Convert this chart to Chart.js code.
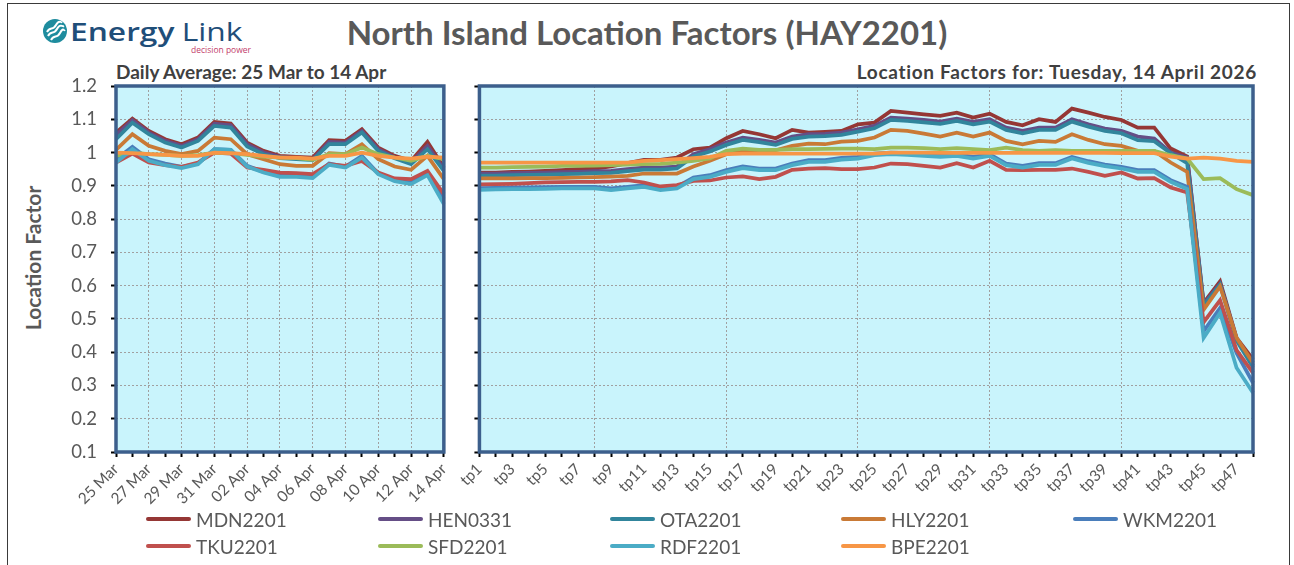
<!DOCTYPE html>
<html><head><meta charset="utf-8">
<script src="https://cdn.jsdelivr.net/npm/chart.js@4/dist/chart.umd.min.js"></script>
<style>
html,body{margin:0;padding:0;background:#fff}
body{width:1294px;height:565px;overflow:hidden;position:relative;font-family:Lato,'Open Sans',sans-serif}
.frame{position:absolute;left:7px;top:3px;width:1283px;height:620px;border:1.5px solid #3a3a3a;box-sizing:border-box}
canvas{position:absolute;top:0}
#cl{left:0}
#cr{left:460px}
.title{position:absolute;left:0;width:1294px;top:12px;text-align:center;font-weight:700;font-size:33px;line-height:40px;color:#595959}
.sub{position:absolute;top:60px;font-weight:700;font-size:19px;line-height:24px;color:#404040;white-space:nowrap}
.ytitle{position:absolute;left:32px;top:258px;transform:translate(-50%,-50%) rotate(-90deg);font-weight:700;font-size:21px;color:#595959;white-space:nowrap}
.leg{position:absolute;height:24px;display:flex;align-items:center;font-size:19px;color:#595959;white-space:nowrap}
.leg span.ln{display:inline-block;width:45px;height:4px;border-radius:2px;margin-right:5px}
.logo{position:absolute;left:42px;top:17px}
.logotxt{position:absolute;left:70px;top:15px;font-family:'Open Sans',sans-serif;font-size:26px;line-height:32px;color:#1f4e79;transform-origin:0 0;transform:scaleX(1.22);white-space:nowrap}
.logotxt b{font-weight:600}
.logotxt i{font-style:normal;font-weight:400;margin-left:6px}
.dp{position:absolute;left:191px;top:44px;font-family:'Open Sans',sans-serif;font-size:8.5px;color:#c2406b;white-space:nowrap}
</style>
</head><body>
<div class="frame"></div>
<svg class="logo" width="28" height="28" viewBox="0 0 28 28">
  <circle cx="13" cy="14" r="12" fill="#1e8c9e"/>
  <path d="M5 15 C8 9, 11 14, 14 8 S19 6, 20 5" stroke="#fff" stroke-width="2" fill="none"/>
  <path d="M6 19 C9 13, 12 18, 15 12 S20 10, 22 9" stroke="#fff" stroke-width="2" fill="none"/>
  <path d="M9 23 C12 17, 15 22, 18 16 S22 14, 23 13" stroke="#fff" stroke-width="2" fill="none"/>
</svg>
<div class="logotxt"><b>Energy</b><i>Link</i></div>
<div class="dp">decision power</div>
<div class="title">North Island Location Factors (HAY2201)</div>
<div class="sub" style="left:116px">Daily Average: 25 Mar to 14 Apr</div>
<div class="sub" style="right:37px;letter-spacing:0.7px">Location Factors for: Tuesday, 14 April 2026</div>
<div class="ytitle">Location Factor</div>
<canvas id="cl" width="460" height="565"></canvas>
<canvas id="cr" width="834" height="565"></canvas>
<div id="legend"></div>
<script>
// ---------- data ----------
const days = ['25 Mar','26 Mar','27 Mar','28 Mar','29 Mar','30 Mar','31 Mar','01 Apr','02 Apr','03 Apr','04 Apr','05 Apr','06 Apr','07 Apr','08 Apr','09 Apr','10 Apr','11 Apr','12 Apr','13 Apr','14 Apr'];
const tps = ['tp1','tp2','tp3','tp4','tp5','tp6','tp7','tp8','tp9','tp10','tp11','tp12','tp13','tp14','tp15','tp16','tp17','tp18','tp19','tp20','tp21','tp22','tp23','tp24','tp25','tp26','tp27','tp28','tp29','tp30','tp31','tp32','tp33','tp34','tp35','tp36','tp37','tp38','tp39','tp40','tp41','tp42','tp43','tp44','tp45','tp46','tp47','tp48'];
const yTickLabels = ['0.1','0.2','0.3','0.4','0.5','0.6','0.7','0.8','0.9','1','1.1','1.2'];

const seriesNames = ['MDN2201','HEN0331','OTA2201','HLY2201','WKM2201','TKU2201','SFD2201','RDF2201','BPE2201'];
const seriesColors = ['#953735','#654e86','#31859c','#c97a36','#4a7ebb','#c0504d','#9bbb59','#4bacc6','#f79646'];

// daily averages
const dailyMDN = [1.06,1.102,1.065,1.04,1.025,1.045,1.092,1.087,1.03,1.005,0.99,0.987,0.985,1.037,1.035,1.07,1.015,0.99,0.975,1.032,0.955];
const dailyHEN = [1.052,1.097,1.06,1.035,1.02,1.04,1.087,1.082,1.025,1.0,0.987,0.983,0.98,1.032,1.03,1.065,1.01,0.985,0.97,1.02,0.95];
const dailyOTA = [1.04,1.09,1.055,1.03,1.015,1.035,1.08,1.075,1.018,0.995,0.983,0.98,0.977,1.025,1.025,1.06,1.005,0.983,0.965,1.01,0.945];
const dailyHLY = [1.008,1.055,1.02,1.005,0.995,1.005,1.045,1.04,0.995,0.98,0.965,0.96,0.96,0.998,0.995,1.025,0.98,0.958,0.948,0.99,0.92];
const dailyWKM = [0.98,1.017,0.98,0.967,0.957,0.967,1.01,1.008,0.96,0.942,0.93,0.93,0.927,0.967,0.958,0.99,0.937,0.917,0.91,0.935,0.86];
const dailyTKU = [0.97,0.997,0.97,0.962,0.957,0.97,1.0,0.997,0.955,0.948,0.94,0.938,0.935,0.965,0.96,0.975,0.94,0.922,0.92,0.945,0.875];
const dailySFD = [0.99,1.0,0.995,0.993,0.99,0.992,1.0,0.998,0.993,0.988,0.985,0.983,0.978,0.995,0.995,1.015,0.995,0.985,0.975,0.99,0.98];
const dailyRDF = [0.97,1.01,0.975,0.962,0.953,0.965,1.01,1.008,0.958,0.94,0.927,0.927,0.923,0.963,0.955,0.985,0.935,0.914,0.905,0.932,0.845];
const dailyBPE = [1.0,0.998,0.995,0.993,0.99,0.99,1.0,0.998,0.995,0.99,0.985,0.985,0.982,0.99,0.99,1.0,0.99,0.985,0.982,0.988,0.985];

// trading periods, 14 April 2026
const tpMDN = [0.94,0.94,0.942,0.943,0.945,0.947,0.95,0.952,0.958,0.968,0.978,0.978,0.985,1.01,1.015,1.043,1.065,1.055,1.043,1.068,1.06,1.062,1.065,1.085,1.09,1.125,1.12,1.115,1.11,1.12,1.105,1.117,1.092,1.082,1.1,1.092,1.132,1.12,1.107,1.098,1.075,1.075,1.012,0.988,0.548,0.613,0.443,0.378];
const tpHEN = [0.937,0.937,0.938,0.939,0.94,0.941,0.942,0.944,0.945,0.95,0.955,0.955,0.958,0.995,1.01,1.03,1.045,1.038,1.03,1.048,1.055,1.056,1.06,1.07,1.08,1.105,1.102,1.098,1.093,1.102,1.092,1.1,1.075,1.065,1.075,1.075,1.1,1.085,1.072,1.065,1.048,1.042,1.0,0.985,0.545,0.606,0.44,0.36];
const tpOTA = [0.931,0.931,0.932,0.933,0.934,0.935,0.936,0.938,0.939,0.944,0.949,0.949,0.952,0.988,1.003,1.023,1.038,1.031,1.023,1.041,1.048,1.049,1.053,1.063,1.073,1.098,1.095,1.091,1.086,1.095,1.085,1.093,1.068,1.058,1.068,1.068,1.093,1.078,1.065,1.058,1.037,1.034,0.998,0.968,0.54,0.603,0.435,0.355];
const tpHLY = [0.922,0.922,0.922,0.923,0.923,0.924,0.925,0.926,0.928,0.93,0.937,0.937,0.937,0.958,0.975,0.995,1.005,1.008,1.007,1.02,1.027,1.025,1.033,1.035,1.045,1.068,1.065,1.057,1.048,1.06,1.048,1.06,1.035,1.025,1.035,1.032,1.055,1.038,1.025,1.02,1.005,1.005,0.97,0.942,0.528,0.598,0.443,0.368];
const tpWKM = [0.893,0.894,0.895,0.895,0.896,0.897,0.897,0.897,0.892,0.897,0.902,0.892,0.897,0.925,0.932,0.947,0.958,0.952,0.952,0.967,0.977,0.977,0.984,0.987,0.997,1.0,0.998,0.995,0.992,0.995,0.987,0.995,0.967,0.96,0.968,0.968,0.987,0.974,0.964,0.957,0.947,0.947,0.917,0.897,0.463,0.533,0.398,0.308];
const tpTKU = [0.904,0.905,0.906,0.908,0.91,0.911,0.912,0.912,0.913,0.917,0.91,0.898,0.902,0.915,0.916,0.925,0.928,0.92,0.927,0.948,0.952,0.953,0.95,0.95,0.955,0.967,0.965,0.96,0.955,0.968,0.955,0.975,0.948,0.947,0.948,0.948,0.952,0.942,0.93,0.94,0.922,0.923,0.895,0.88,0.49,0.556,0.406,0.338];
const tpSFD = [0.955,0.955,0.956,0.957,0.958,0.96,0.96,0.961,0.962,0.964,0.965,0.966,0.97,0.975,0.982,1.005,1.012,1.008,1.008,1.01,1.01,1.011,1.012,1.012,1.01,1.015,1.015,1.013,1.01,1.013,1.01,1.007,1.015,1.007,1.005,1.007,1.005,1.005,1.005,1.005,1.005,1.005,0.992,0.982,0.92,0.923,0.89,0.872];
const tpRDF = [0.888,0.889,0.89,0.89,0.891,0.892,0.892,0.892,0.887,0.892,0.897,0.887,0.892,0.92,0.927,0.942,0.953,0.947,0.947,0.962,0.972,0.972,0.979,0.982,0.992,0.995,0.993,0.99,0.987,0.99,0.982,0.99,0.962,0.955,0.963,0.963,0.982,0.969,0.959,0.952,0.942,0.942,0.912,0.89,0.443,0.518,0.353,0.278];
const tpBPE = [0.97,0.97,0.97,0.97,0.97,0.97,0.97,0.97,0.97,0.97,0.975,0.977,0.98,0.983,0.987,0.995,0.997,0.997,0.997,0.997,0.997,0.997,0.997,0.997,0.997,1.0,1.0,1.0,0.999,0.999,0.999,0.999,0.999,0.999,0.999,0.999,0.999,0.999,0.999,0.998,0.998,0.998,0.988,0.982,0.985,0.982,0.975,0.972];

const dailySeries = [dailyMDN,dailyHEN,dailyOTA,dailyHLY,dailyWKM,dailyTKU,dailySFD,dailyRDF,dailyBPE];
const tpSeries = [tpMDN,tpHEN,tpOTA,tpHLY,tpWKM,tpTKU,tpSFD,tpRDF,tpBPE];

// ---------- styling ----------
const PLOT_BG = '#c9f4fc';
const PLOT_BORDER = '#3c5f8c';
const GRID = '#a0a0a0';
const TXT = '#595959';
const FONT = 'Lato, "Open Sans", sans-serif';

const panelPlugin = {
  id: 'panel',
  beforeDraw(chart) {
    const {ctx, chartArea: a} = chart;
    ctx.save();
    ctx.fillStyle = PLOT_BG;
    ctx.fillRect(a.left, a.top, a.right - a.left, a.bottom - a.top);
    ctx.restore();
  },
  afterDatasetsDraw(chart) {
    const {ctx, chartArea: a} = chart;
    ctx.save();
    ctx.strokeStyle = PLOT_BORDER;
    ctx.lineWidth = 3.5;
    ctx.strokeRect(a.left, a.top, a.right - a.left, a.bottom - a.top);
    ctx.restore();
  }
};

function makeDatasets(series) {
  return series.map((d, i) => ({
    label: seriesNames[i],
    data: d,
    borderColor: seriesColors[i],
    backgroundColor: seriesColors[i],
    borderWidth: 3.75,
    pointRadius: 0,
    tension: 0,
    fill: false,
    order: series.length - i
  }));
}

function makeChart(id, labels, series, opts) {
  return new Chart(document.getElementById(id), {
    type: 'line',
    data: {labels, datasets: makeDatasets(series)},
    plugins: [panelPlugin],
    options: {
      responsive: false,
      animation: false,
      events: [],
      layout: {padding: {left: 0, right: opts.padRight, top: 86, bottom: 0}},
      plugins: {legend: {display: false}, tooltip: {enabled: false}, title: {display: false}},
      scales: {
        x: {
          type: 'category',
          afterFit: s => { s.height = 113; },
          grid: {
            color: c => opts.gridAt(c.index) ? GRID : 'rgba(0,0,0,0)',
            lineWidth: 1,
            drawTicks: true,
            tickLength: 5,
            tickColor: '#000',
            tickWidth: 2,
            tickBorderDash: [1, 0]
          },
          border: {display: false, dash: [2, 2]},
          ticks: {
            autoSkip: false,
            minRotation: 45,
            maxRotation: 45,
            padding: 3,
            color: TXT,
            font: {family: FONT, size: 15.5},
            callback: (v, i) => (i % 2 === 0 ? labels[i] : '')
          }
        },
        y: {
          min: 0.1,
          max: 1.2,
          afterFit: s => { s.width = opts.yWidth; },
          grid: {
            color: GRID,
            lineWidth: 1,
            drawTicks: true,
            tickLength: 5,
            tickColor: '#000',
            tickWidth: 2,
            tickBorderDash: [1, 0]
          },
          border: {display: false, dash: [2, 2]},
          ticks: {
            display: opts.yLabels,
            stepSize: 0.1,
            padding: 14,
            color: TXT,
            font: {family: FONT, size: 18.5},
            callback: v => yTickLabels[Math.round(v * 10) - 1]
          }
        }
      }
    }
  });
}

makeChart('cl', days, dailySeries, {padRight: 14, yWidth: 116, yLabels: true, gridAt: i => i % 2 === 0 && i > 0 && i < days.length - 1});
makeChart('cr', tps, tpSeries, {padRight: 41, yWidth: 18, yLabels: false, gridAt: i => i % 8 === 7 && i < tps.length - 1});

// ---------- legend ----------
const legendCols = [146, 378, 610, 841, 1073];
const legendRows = [507, 534];
const leg = document.getElementById('legend');
seriesNames.forEach((n, i) => {
  const d = document.createElement('div');
  d.className = 'leg';
  d.style.left = legendCols[i % 5] + 'px';
  d.style.top = legendRows[Math.floor(i / 5)] + 'px';
  const ln = document.createElement('span');
  ln.className = 'ln';
  ln.style.background = seriesColors[i];
  d.appendChild(ln);
  d.appendChild(document.createTextNode(n));
  leg.appendChild(d);
});
</script>
</body></html>
